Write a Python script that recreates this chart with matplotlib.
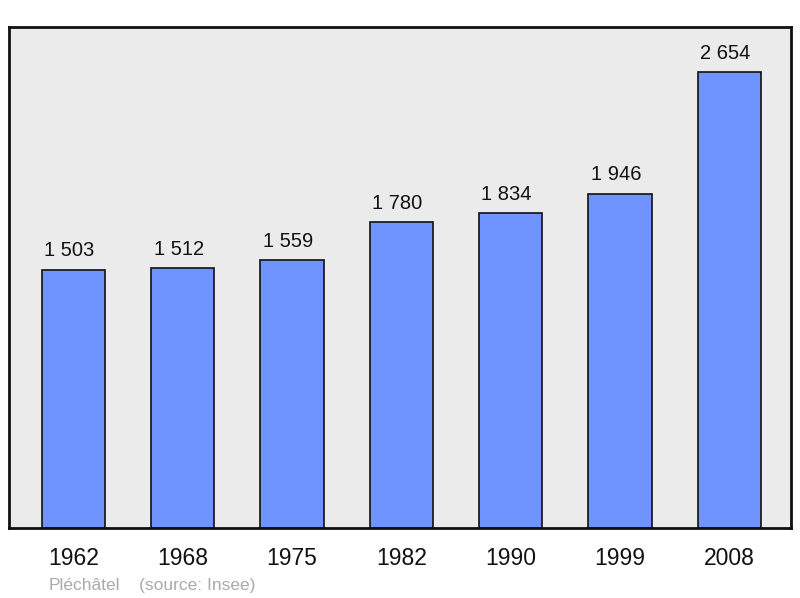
import matplotlib
matplotlib.use("Agg")
import matplotlib.pyplot as plt

years = ["1962", "1968", "1975", "1982", "1990", "1999", "2008"]
population = [1503, 1512, 1559, 1780, 1834, 1946, 2654]
value_labels = ["1 503", "1 512", "1 559", "1 780", "1 834", "1 946", "2 654"]
place = "Pléchâtel"
source = "(source: Insee)"

plt.rcParams['font.family'] = ['Liberation Sans', 'DejaVu Sans']

fig = plt.figure(figsize=(8, 5.98), dpi=100)
ax = fig.add_axes([9/800, 70/598, 782/800, 501/598])
ax.set_facecolor('#ebebeb')
x = list(range(len(years)))
ax.bar(x, population, width=0.578, color='#7094ff', edgecolor='#111111', linewidth=1.2, zorder=2)
ax.set_xlim(-0.59, 6.565)
ax.set_ylim(0, 2918)
for xi, v, lab in zip(x, population, value_labels):
    ax.annotate(lab, (xi, v), xytext=(-4, 19), textcoords='offset pixels',
                ha='center', va='center', fontsize=14.5, color='#111111')
ax.set_xticks(x)
ax.set_xticklabels(years, fontsize=16.5, color='#111111')
ax.tick_params(axis='x', length=0, pad=14)
ax.set_yticks([])
for s in ax.spines.values():
    s.set_linewidth(2)
    s.set_color('#111111')
fig.text(49/800, 1 - 590/598, place, fontsize=12.5, color='#aaaaaa', va='baseline', ha='left')
fig.text(139/800, 1 - 590/598, source, fontsize=12.5, color='#aaaaaa', va='baseline', ha='left')
fig.savefig("out.png", dpi=100)
